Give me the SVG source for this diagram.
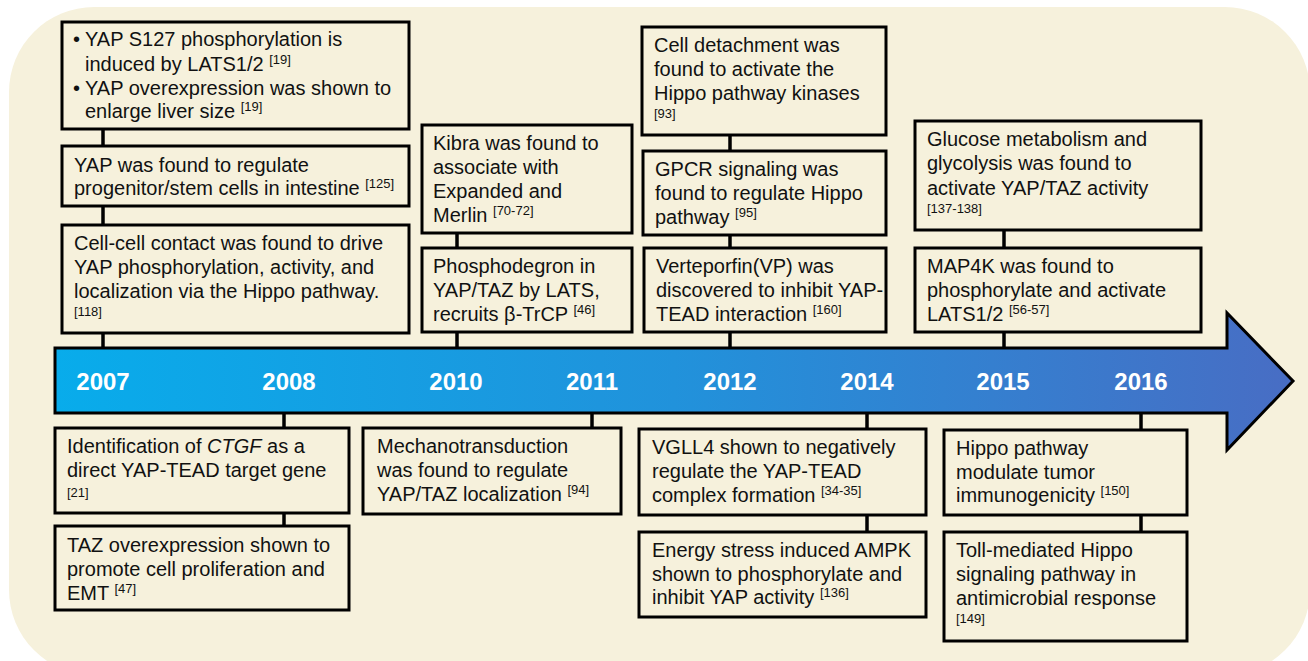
<svg xmlns="http://www.w3.org/2000/svg" width="1308" height="661" viewBox="0 0 1308 661">
<defs>
<linearGradient id="arrowGrad" x1="0" y1="0" x2="1" y2="0">
<stop offset="0" stop-color="#08ACEB"/>
<stop offset="0.5" stop-color="#2192DB"/>
<stop offset="1" stop-color="#486DC4"/>
</linearGradient>
<style>
.box{fill:#F6F1DC;stroke:#000;stroke-width:3}
.t{font-family:"Liberation Sans",Arial,sans-serif;font-size:20px;fill:#111}
.s{font-size:13px}
.r{font-family:"Liberation Sans",Arial,sans-serif;font-size:13px;fill:#111}
.yr{font-family:"Liberation Sans",Arial,sans-serif;font-size:24px;font-weight:bold;fill:#fff;text-anchor:middle}
.c{stroke:#000;stroke-width:3.5;fill:none}
</style>
</defs>
<rect x="9" y="7" width="1301" height="668" rx="85" ry="85" fill="#F6F1DC"/>
<g id="connectors">
<line class="c" x1="103" y1="129" x2="103" y2="146"/>
<line class="c" x1="103" y1="206" x2="103" y2="225"/>
<line class="c" x1="103" y1="333" x2="103" y2="348"/>
<line class="c" x1="457" y1="233" x2="457" y2="248"/>
<line class="c" x1="457" y1="332" x2="457" y2="348"/>
<line class="c" x1="730" y1="135" x2="730" y2="151"/>
<line class="c" x1="730" y1="235" x2="730" y2="248"/>
<line class="c" x1="730" y1="332" x2="730" y2="348"/>
<line class="c" x1="1004" y1="230" x2="1004" y2="248"/>
<line class="c" x1="1004" y1="332" x2="1004" y2="348"/>
<line class="c" x1="284" y1="413" x2="284" y2="428"/>
<line class="c" x1="284" y1="513" x2="284" y2="526"/>
<line class="c" x1="592" y1="413" x2="592" y2="428"/>
<line class="c" x1="867" y1="413" x2="867" y2="429"/>
<line class="c" x1="867" y1="515" x2="867" y2="532"/>
<line class="c" x1="1141" y1="413" x2="1141" y2="430"/>
<line class="c" x1="1141" y1="515" x2="1141" y2="532"/>
</g>
<g id="timeline">
<polygon points="55,348 1227,348 1227,313 1293,381 1227,450 1227,413 55,413" fill="url(#arrowGrad)" stroke="#000" stroke-width="3" stroke-linejoin="miter"/>
<text class="yr" x="103" y="390">2007</text>
<text class="yr" x="289" y="390">2008</text>
<text class="yr" x="456" y="390">2010</text>
<text class="yr" x="592" y="390">2011</text>
<text class="yr" x="730" y="390">2012</text>
<text class="yr" x="867" y="390">2014</text>
<text class="yr" x="1003" y="390">2015</text>
<text class="yr" x="1141" y="390">2016</text>
</g>
<g id="n2007a">
<rect class="box" x="62" y="22" width="347" height="107"/>
<text class="t" x="73" y="46">•</text>
<text class="t" x="85" y="46">YAP S127 phosphorylation is</text>
<text class="t" x="85" y="71">induced by LATS1/2 <tspan class="s" dy="-7">[19]</tspan></text>
<text class="t" x="73" y="95">•</text>
<text class="t" x="85" y="95">YAP overexpression was shown to</text>
<text class="t" x="85" y="118">enlarge liver size <tspan class="s" dy="-7">[19]</tspan></text>
</g>
<g id="n2007b">
<rect class="box" x="62" y="146" width="347" height="60"/>
<text class="t" x="74" y="172">YAP was found to regulate</text>
<text class="t" x="74" y="195">progenitor/stem cells in intestine <tspan class="s" dy="-7">[125]</tspan></text>
</g>
<g id="n2007c">
<rect class="box" x="62" y="225" width="347" height="108"/>
<text class="t" x="74" y="250">Cell-cell contact was found to drive</text>
<text class="t" x="74" y="274">YAP phosphorylation, activity, and</text>
<text class="t" x="74" y="298">localization via the Hippo pathway.</text>
<text class="r" x="74" y="316">[118]</text>
</g>
<g id="n2010a">
<rect class="box" x="422" y="125" width="210" height="108"/>
<text class="t" x="433" y="150">Kibra was found to</text>
<text class="t" x="433" y="174">associate with</text>
<text class="t" x="433" y="198">Expanded and</text>
<text class="t" x="433" y="222">Merlin <tspan class="s" dy="-7">[70-72]</tspan></text>
</g>
<g id="n2010b">
<rect class="box" x="422" y="248" width="210" height="84"/>
<text class="t" x="433" y="273">Phosphodegron in</text>
<text class="t" x="433" y="297">YAP/TAZ by LATS,</text>
<text class="t" x="433" y="321">recruits β-TrCP <tspan class="s" dy="-7">[46]</tspan></text>
</g>
<g id="n2012a">
<rect class="box" x="642" y="27" width="244" height="108"/>
<text class="t" x="654" y="52">Cell detachment was</text>
<text class="t" x="654" y="76">found to activate the</text>
<text class="t" x="654" y="100">Hippo pathway kinases</text>
<text class="r" x="654" y="118">[93]</text>
</g>
<g id="n2012b">
<rect class="box" x="643" y="151" width="243" height="84"/>
<text class="t" x="655" y="176">GPCR signaling was</text>
<text class="t" x="655" y="200">found to regulate Hippo</text>
<text class="t" x="655" y="224">pathway <tspan class="s" dy="-7">[95]</tspan></text>
</g>
<g id="n2012c">
<rect class="box" x="644" y="248" width="242" height="84"/>
<text class="t" x="656" y="273">Verteporfin(VP) was</text>
<text class="t" x="656" y="297">discovered to inhibit YAP-</text>
<text class="t" x="656" y="321">TEAD interaction <tspan class="s" dy="-7">[160]</tspan></text>
</g>
<g id="n2015a">
<rect class="box" x="915" y="121" width="286" height="109"/>
<text class="t" x="927" y="146">Glucose metabolism and</text>
<text class="t" x="927" y="170">glycolysis was found to</text>
<text class="t" x="927" y="195">activate YAP/TAZ activity</text>
<text class="r" x="927" y="213">[137-138]</text>
</g>
<g id="n2015b">
<rect class="box" x="915" y="248" width="286" height="84"/>
<text class="t" x="927" y="273">MAP4K was found to</text>
<text class="t" x="927" y="297">phosphorylate and activate</text>
<text class="t" x="927" y="321">LATS1/2 <tspan class="s" dy="-7">[56-57]</tspan></text>
</g>
<g id="n2008a">
<rect class="box" x="55" y="428" width="294" height="85"/>
<text class="t" x="67" y="453">Identification of <tspan font-style="italic">CTGF</tspan> as a</text>
<text class="t" x="67" y="477">direct YAP-TEAD target gene</text>
<text class="r" x="67" y="497">[21]</text>
</g>
<g id="n2008b">
<rect class="box" x="55" y="526" width="294" height="84"/>
<text class="t" x="67" y="552">TAZ overexpression shown to</text>
<text class="t" x="67" y="576">promote cell proliferation and</text>
<text class="t" x="67" y="600">EMT <tspan class="s" dy="-7">[47]</tspan></text>
</g>
<g id="n2011">
<rect class="box" x="363" y="428" width="258" height="86"/>
<text class="t" x="377" y="453">Mechanotransduction</text>
<text class="t" x="377" y="477">was found to regulate</text>
<text class="t" x="377" y="501">YAP/TAZ localization <tspan class="s" dy="-7">[94]</tspan></text>
</g>
<g id="n2014a">
<rect class="box" x="639" y="429" width="287" height="86"/>
<text class="t" x="652" y="454">VGLL4 shown to negatively</text>
<text class="t" x="652" y="478">regulate the YAP-TEAD</text>
<text class="t" x="652" y="502">complex formation <tspan class="s" dy="-7">[34-35]</tspan></text>
</g>
<g id="n2014b">
<rect class="box" x="639" y="532" width="287" height="85"/>
<text class="t" x="652" y="557">Energy stress induced AMPK</text>
<text class="t" x="652" y="581">shown to phosphorylate and</text>
<text class="t" x="652" y="604">inhibit YAP activity <tspan class="s" dy="-7">[136]</tspan></text>
</g>
<g id="n2016a">
<rect class="box" x="944" y="430" width="243" height="85"/>
<text class="t" x="956" y="455">Hippo pathway</text>
<text class="t" x="956" y="479">modulate tumor</text>
<text class="t" x="956" y="502">immunogenicity <tspan class="s" dy="-7">[150]</tspan></text>
</g>
<g id="n2016b">
<rect class="box" x="944" y="532" width="243" height="109"/>
<text class="t" x="956" y="557">Toll-mediated Hippo</text>
<text class="t" x="956" y="581">signaling pathway in</text>
<text class="t" x="956" y="605">antimicrobial response</text>
<text class="r" x="956" y="623">[149]</text>
</g>
</svg>
